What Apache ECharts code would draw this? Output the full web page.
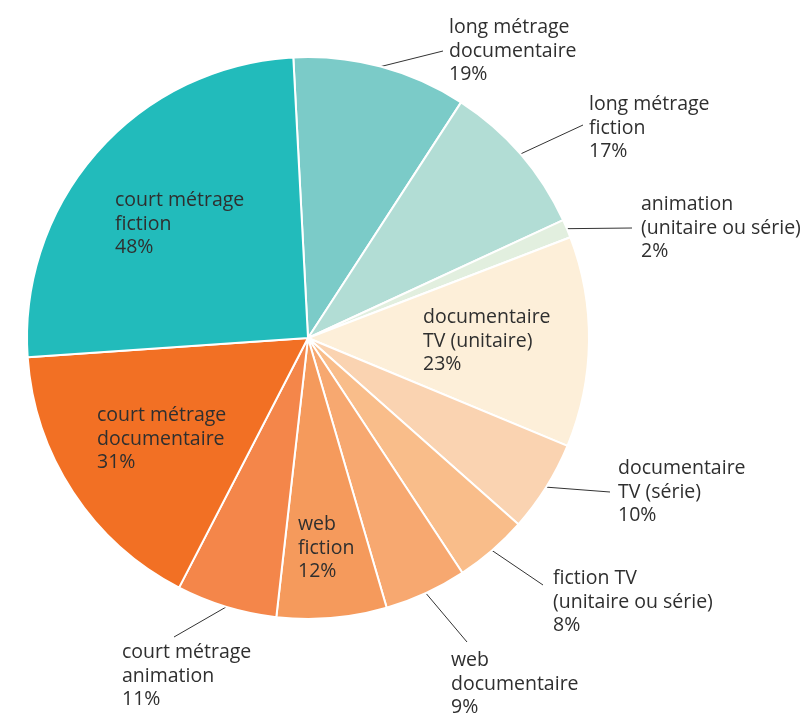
<!DOCTYPE html>
<html>
<head>
<meta charset="utf-8">
<script src="https://cdn.jsdelivr.net/npm/echarts@6/dist/echarts.min.js"></script>
<style>
  html, body { margin: 0; padding: 0; background: #fff; }
  #chart { width: 804px; height: 714px; }
</style>
</head>
<body>
<div id="chart"></div>
<script>
// categories, clockwise from the top
const categories = [
  "long métrage\ndocumentaire",
  "long métrage\nfiction",
  "animation\n(unitaire ou série)",
  "documentaire\nTV (unitaire)",
  "documentaire\nTV (série)",
  "fiction TV\n(unitaire ou série)",
  "web\ndocumentaire",
  "web\nfiction",
  "court métrage\nanimation",
  "court métrage\ndocumentaire",
  "court métrage\nfiction"
]
const percentages = [19, 17, 2, 23, 10, 8, 9, 12, 11, 31, 48]
const colors = [
  "#7bcbc8", "#b2ddd5", "#e2efdf", "#fdefd9", "#fad3b1", "#f9bd8a",
  "#f7a870", "#f59a5c", "#f4864a", "#f27024", "#22bbbb"
]
const insideLabels = [3, 7, 9, 10]

// label placement: [left x, middle y], and where the leader line meets the text
const labelPlaces = {
  0: { x: 449, y: 51, end: [443, 51] },
  1: { x: 589, y: 128, end: [583, 125] },
  2: { x: 641, y: 228, end: [632, 228] },
  3: { x: 423, y: 341 },
  4: { x: 618, y: 492, end: [610, 492] },
  5: { x: 553, y: 602, end: [543, 585] },
  6: { x: 451, y: 684, end: [467, 642] },
  7: { x: 298, y: 548 },
  8: { x: 122, y: 676, end: [174, 637] },
  9: { x: 97, y: 439 },
  10: { x: 115, y: 224 }
}

const chart = echarts.init(document.getElementById("chart"))

const data = categories.map((name, i) => {
  const inside = insideLabels.includes(i)
  return {
    name: name,
    value: percentages[i],
    itemStyle: { color: colors[i] },
    label: { position: inside ? "inside" : "outside" },
    labelLine: { show: !inside }
  }
})

chart.setOption({
  animation: false,
  series: [
    {
      type: "pie",
      center: [308, 338],
      radius: [0, 281],
      startAngle: 93,
      clockwise: true,
      avoidLabelOverlap: false,
      itemStyle: { borderColor: "#fff", borderWidth: 2 },
      label: {
        formatter: (p) => p.name + "\n" + p.value + "%",
        fontFamily: "Open Sans",
        fontSize: 19.5,
        lineHeight: 23.5,
        color: "#2f2f2f",
        align: "left"
      },
      labelLine: {
        show: true,
        length: 20,
        length2: 0,
        lineStyle: { color: "#333", width: 1 }
      },
      labelLayout: (params) => {
        const place = labelPlaces[params.dataIndex]
        const out = { x: place.x, y: place.y, align: "left", verticalAlign: "middle" }
        if (place.end && params.labelLinePoints) {
          const start = params.labelLinePoints[0]
          out.labelLinePoints = [[start[0], start[1]], place.end]
        }
        return out
      },
      data: data
    }
  ]
})
</script>
</body>
</html>
